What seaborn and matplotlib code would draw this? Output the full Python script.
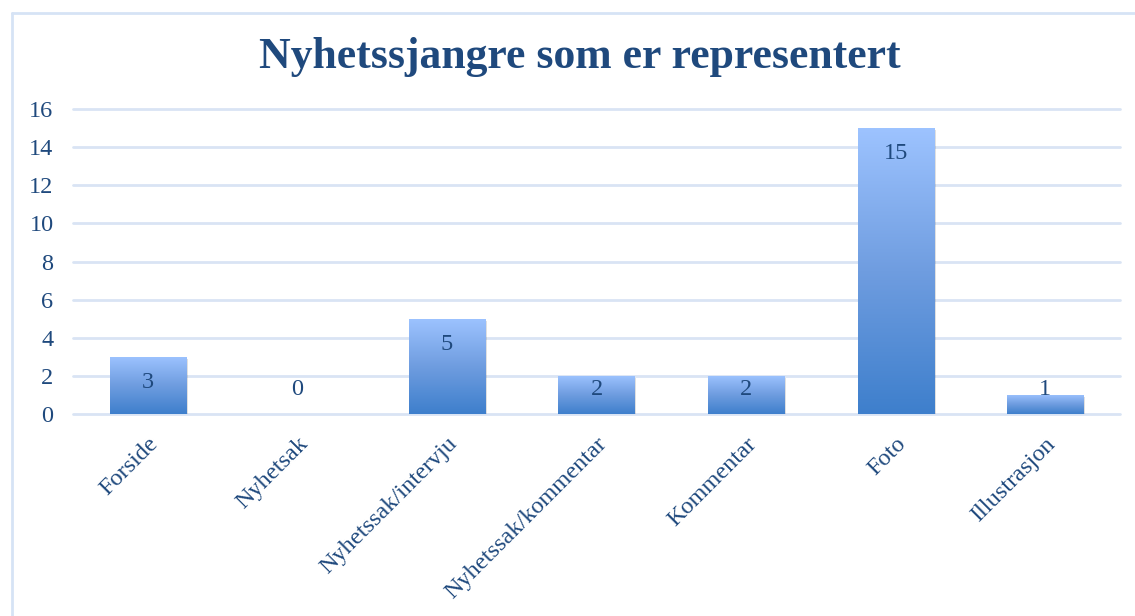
import numpy as np
import pandas as pd
import matplotlib
matplotlib.use("Agg")
import matplotlib.pyplot as plt
from matplotlib.patches import Rectangle
from matplotlib.lines import Line2D
from matplotlib.colors import LinearSegmentedColormap
import seaborn as sns

categories = ["Forside", "Nyhetsak", "Nyhetssak/intervju", "Nyhetssak/kommentar",
              "Kommentar", "Foto", "Illustrasjon"]
values = [3, 0, 5, 2, 2, 15, 1]
yticks = [0, 2, 4, 6, 8, 10, 12, 14, 16]
title = "Nyhetssjangre som er representert"

df = pd.DataFrame({"kategori": categories, "antall": values})

sns.set_theme(style="white")
plt.rcParams['font.family'] = ['Liberation Serif', 'DejaVu Serif']
text_color = "#1F497D"
grid_color = "#D9E4F4"

fig = plt.figure(figsize=(11.35, 6.16), dpi=100)
ax = fig.add_axes([73 / 1135, 1 - 414 / 616, (1120 - 73) / 1135, (414 - 109) / 616])

sns.barplot(data=df, x="kategori", y="antall", ax=ax, color="#6A9BE0",
            width=0.51, saturation=1, zorder=3)

ax.set_ylim(0, 16)
ax.set_xlim(-0.5, len(categories) - 0.5)
ax.set_yticks(yticks)
ax.yaxis.grid(True, color=grid_color, linewidth=2, zorder=0)
for gl in ax.get_ygridlines():
    gl.set_clip_on(False)
ax.set_axisbelow(True)
for s in ax.spines.values():
    s.set_visible(False)
ax.set_xlabel("")
ax.set_ylabel("")
ax.tick_params(axis="y", length=0, pad=14, labelsize=17.5, labelcolor=text_color)
ax.tick_params(axis="x", length=0, pad=14, labelsize=17.5, labelcolor=text_color)
for lbl in ax.get_xticklabels():
    lbl.set_rotation(45)
    lbl.set_ha("right")
    lbl.set_rotation_mode("anchor")

cmap = LinearSegmentedColormap.from_list("g", ["#3E7FCC", "#6F9DE0", "#9DC3FF"])
grad = np.linspace(0, 1, 256).reshape(-1, 1)
for p in list(ax.patches):
    x0, y0 = p.get_x(), p.get_y()
    w, h = p.get_width(), p.get_height()
    if h <= 0:
        p.set_visible(False)
        continue
    sh = Rectangle((x0 + 0.012, y0 - 0.12), w, h, facecolor="#000000", alpha=0.12,
                   edgecolor="none", zorder=2)
    ax.add_patch(sh)
    p.set_facecolor("none")
    p.set_edgecolor("none")
    im = ax.imshow(grad, extent=[x0, x0 + w, y0, y0 + h], origin="lower",
                   cmap=cmap, aspect="auto", zorder=3)
    im.set_clip_path(p)

ax.set_xlim(-0.5, len(categories) - 0.5)
ax.set_ylim(0, 16)

for i, v in enumerate(values):
    ypos = max(v - 1.36, 1.26)
    ax.text(i, ypos, str(v), ha="center", va="center", fontsize=17.5,
            color=text_color, zorder=5)

fig.text(580 / 1135, 1 - 57 / 616, title, ha="center", va="center",
         fontsize=31.5, fontweight="bold", color=text_color)

bx = 11.5 / 1135
by = 1 - 12.5 / 616
fig.add_artist(Line2D([bx, bx], [0, by], transform=fig.transFigure,
                      color="#D6E3F5", linewidth=2))
fig.add_artist(Line2D([bx, 1], [by, by], transform=fig.transFigure,
                      color="#D6E3F5", linewidth=2))

fig.savefig("out.png", dpi=100)
